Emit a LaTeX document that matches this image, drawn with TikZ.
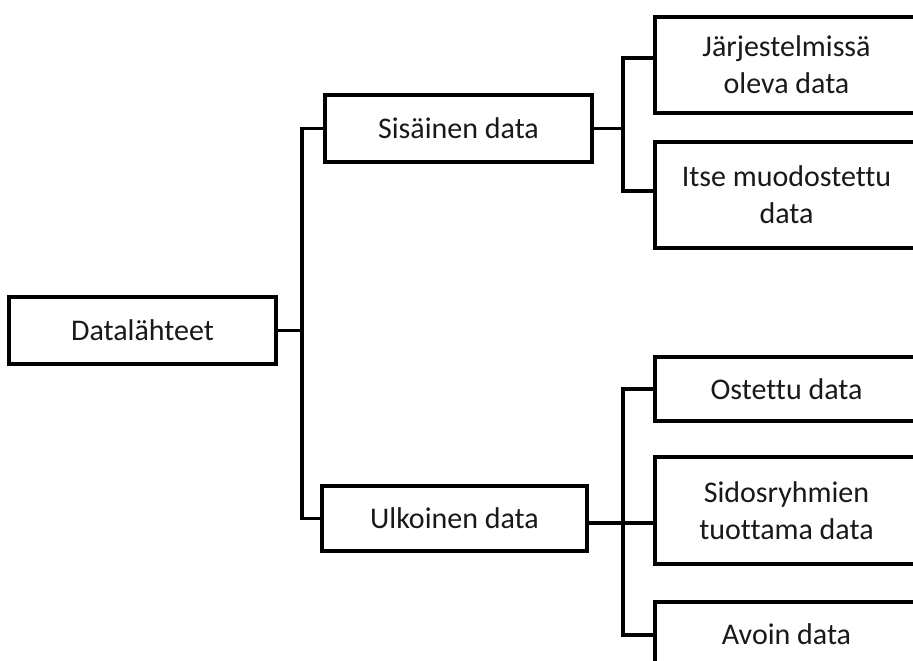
\documentclass[tikz,border=0pt]{standalone}
\usepackage{fontspec}
\setmainfont[Ligatures=NoCommon]{Carlito}
\begin{document}
\begin{tikzpicture}[x=1pt,y=-1pt,
  box/.style={draw, line width=3.3pt, inner sep=0pt, align=center,
    font=\fontsize{30}{37}\selectfont, text=black!90},
  link/.style={line width=3.3pt}]
\clip (0,0) rectangle (913,661);
\fill[white] (0,0) rectangle (913,661);

% tree of boxes
\node[box, minimum width=267pt, minimum height=67pt] (D) at (142.5,330.5) {Datalähteet};
\node[box, minimum width=267pt, minimum height=67pt] (S) at (458.5,128.5) {Sisäinen data};
\node[box, minimum width=265pt, minimum height=65pt] (U) at (454.5,518.5) {Ulkoinen data};

\node[box, minimum width=263pt, minimum height=96pt]  (J) at (786.5,65)    {Järjestelmissä\\oleva data};
\node[box, minimum width=263pt, minimum height=106pt] (I) at (786.5,195)   {Itse muodostettu\\data};
\node[box, minimum width=263pt, minimum height=64pt]  (O) at (786.5,389)   {Ostettu data};
\node[box, minimum width=263pt, minimum height=107pt] (X) at (786.5,510.5) {Sidosryhmien\\tuottama data};
\node[box, minimum width=263pt, minimum height=64pt]  (A) at (786.5,634)   {Avoin data};

% junction points of the brackets
\coordinate (dj) at (302,330.5);
\coordinate (sj) at (623,128.5);
\coordinate (uj) at (623,523);

% root bracket
\draw[link] (D.east) -- (dj);
\draw[link] (S.west) -| (dj) |- (U.west);

% internal data bracket
\draw[link] (S.east) -- (sj);
\draw[link] ([yshift=7pt]J.west) -| (sj) |- ([yshift=4pt]I.west);

% external data bracket
\draw[link] ([yshift=-4.5pt]U.east) -- ([yshift=-12.5pt]X.west);
\draw[link] (O.west) -| (uj) |- ([yshift=-1pt]A.west);
\end{tikzpicture}
\end{document}
